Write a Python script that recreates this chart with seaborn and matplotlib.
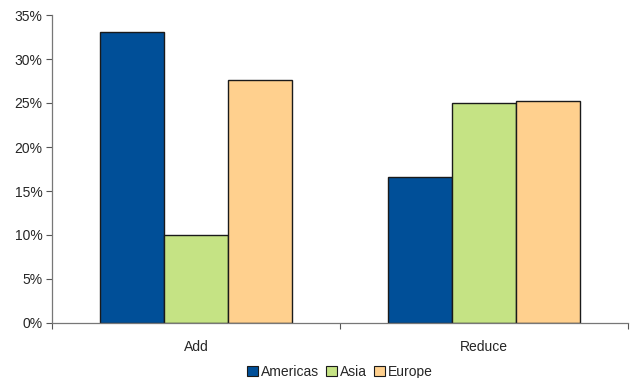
#!/usr/bin/env python3
"""Grouped bar chart: Add / Reduce by region"""
import matplotlib
matplotlib.use('Agg')
import matplotlib.pyplot as plt
import matplotlib.ticker as mticker
from matplotlib.patches import Patch
import pandas as pd
import seaborn as sns

actions = ['Add', 'Reduce']
regions = ['Americas', 'Asia', 'Europe']
americas = [33.1, 16.6]
asia = [10.0, 25.0]
europe = [27.6, 25.2]
colors = ['#004F98', '#C5E384', '#FFD08E']

df = pd.DataFrame({
    'action': actions * 3,
    'region': [r for r in regions for _ in actions],
    'value': americas + asia + europe,
})

sns.set_style('white')
plt.rcParams['font.family'] = ['Liberation Sans', 'DejaVu Sans']

fig = plt.figure(figsize=(6.34, 3.78), dpi=100)
ax = fig.add_axes([52 / 634, 55 / 378, 576 / 634, 308 / 378])

sns.barplot(data=df, x='action', y='value', hue='region', order=actions,
            hue_order=regions, palette=colors, width=2 / 3, saturation=1,
            edgecolor='#1a1a1a', linewidth=1, ax=ax, legend=False)

ax.set_xlim(-0.5, 1.5)
ax.set_ylim(0, 35)
ax.yaxis.set_major_locator(mticker.MultipleLocator(5))
ax.yaxis.set_major_formatter(mticker.FuncFormatter(lambda v, p: f'{v:.0f}%'))
ax.set_xlabel('')
ax.set_ylabel('')

ax.tick_params(axis='y', which='major', length=4, width=0.8, color='#555555',
               labelsize=10, pad=3, left=True)
ax.tick_params(axis='x', which='major', length=0, labelsize=10, pad=12)
ax.set_xticks([-0.5, 0.5, 1.5], minor=True)
ax.tick_params(axis='x', which='minor', length=4, width=0.8, color='#555555',
               bottom=True)

for s in ['top', 'right']:
    ax.spines[s].set_visible(False)
for s in ['left', 'bottom']:
    ax.spines[s].set_color('#777777')
    ax.spines[s].set_linewidth(0.9)

handles = [Patch(facecolor=c, edgecolor='#1a1a1a', linewidth=0.8, label=r)
           for c, r in zip(colors, regions)]
fig.legend(handles=handles, loc='center', bbox_to_anchor=(340 / 634, 1 - 372 / 378),
           ncol=3, frameon=False, fontsize=10, handlelength=0.8, handleheight=0.8,
           handletextpad=0.2, columnspacing=0.5, borderaxespad=0)

fig.savefig('out.png', dpi=100)
